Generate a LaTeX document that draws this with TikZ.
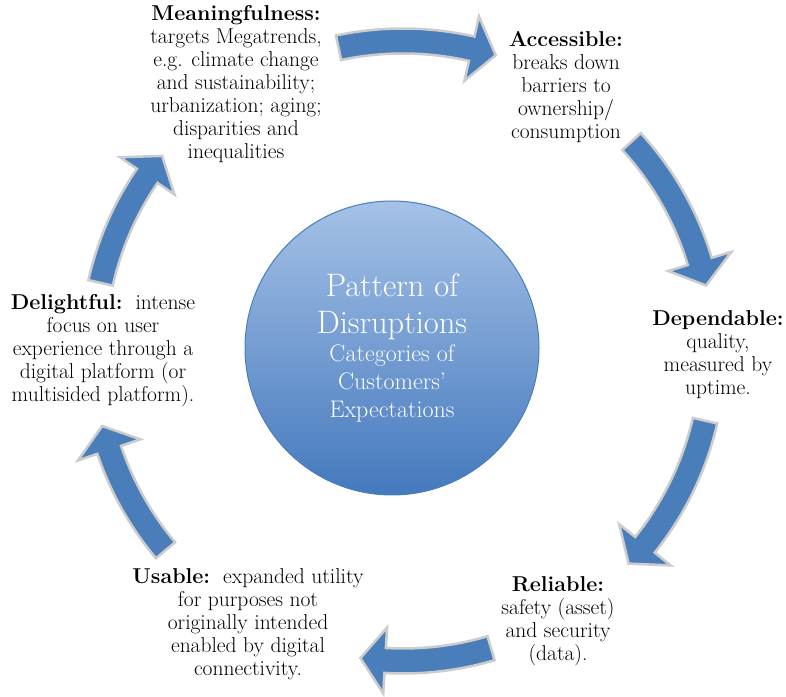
\documentclass[tikz,border=0pt]{standalone}
\usepackage{amsmath}
\usetikzlibrary{calc}

\definecolor{bleuFleche}{RGB}{74,126,187}
\definecolor{bleuClair}{RGB}{165,193,230}
\definecolor{bleuFonce}{RGB}{68,121,190}
\definecolor{grisBord}{RGB}{204,204,204}

% rayon de l'anneau, demi-largeur du corps, aile et longueur de la pointe
\def\rayon{310}
\def\rext{322.5}
\def\rint{297.5}
\def\aile{20.5}
\def\pointe{4.6}

% fleche courbe le long de l'anneau, de #1 (queue) a #2 (pointe)
\newcommand{\flechecycle}[2]{%
  \filldraw[fill=bleuFleche, draw=grisBord, line width=2.5pt, line join=miter]
    ($(centre)+(#1:\rext)$)
    arc[start angle=#1, end angle=#2+\pointe, radius=\rext]
    -- ($(centre)+(#2+\pointe:\rext+\aile)$)
    -- ($(centre)+(#2:\rayon)$)
    -- ($(centre)+(#2+\pointe:\rint-\aile)$)
    -- ($(centre)+(#2+\pointe:\rint)$)
    arc[start angle=#2+\pointe, end angle=#1, radius=\rint]
    -- cycle;}

\begin{document}
\begin{tikzpicture}[x=1pt, y=1pt,
  texte/.style={align=center, inner sep=0pt, font=\fontsize{21.5}{23}\selectfont}]
  \useasboundingbox (0,0) rectangle (786,696);
  \coordinate (centre) at (403,345);

  % Cercle central
  \node[circle, minimum size=294pt, draw=bleuFleche, line width=1pt,
        top color=bleuClair, bottom color=bleuFonce, text=white, align=center,
        font=\fontsize{24}{28}\selectfont]
    (coeur) at (392,348)
    {{\fontsize{32.5}{38}\selectfont Pattern of}\\[9pt]
     {\fontsize{32.5}{38}\selectfont Disruptions}\\[0pt]
     Categories of\\ Customers'\\ Expectations};

  % Fleches du cycle
  \flechecycle{102}{72.6}
  \flechecycle{42.5}{12.2}
  \flechecycle{-13}{-43.3}
  \flechecycle{-73.5}{-97.9}
  \flechecycle{220}{194}
  \flechecycle{167.3}{141}

  % Etiquettes
  \node[texte] (sens) at (236,612)
    {\textbf{Meaningfulness:}\\ targets Megatrends,\\ e.g. climate change\\
     and sustainability;\\ urbanization; aging;\\ disparities and\\ inequalities};
  \node[texte] (acces) at (566,609)
    {\textbf{Accessible:}\\ breaks down\\ barriers to\\ ownership/\\ consumption};
  \node[texte] (fiable) at (718,341)
    {\textbf{Dependable:}\\ quality,\\ measured by\\ uptime.};
  \node[texte] (sur) at (558,75)
    {\textbf{Reliable:}\\ safety (asset)\\ and security\\ (data).};
  \node[texte] (utile) at (248,72)
    {\textbf{Usable:}\ \ expanded utility\\ for purposes not\\ originally intended\\
     enabled by digital\\ connectivity.};
  \node[texte] (plaisir) at (103,345)
    {\textbf{Delightful:}\ \ intense\\ focus on user\\ experience through a\\
     digital platform (or\\ multisided platform).};
\end{tikzpicture}
\end{document}
